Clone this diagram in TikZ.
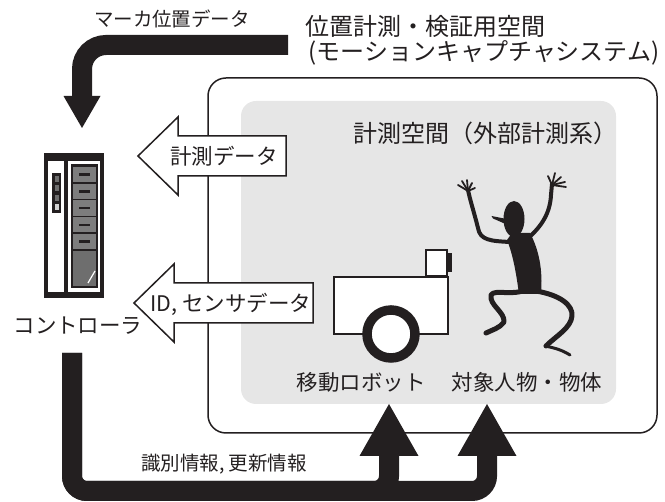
\documentclass[tikz,border=0pt]{standalone}
\usepackage{fontspec}
\setmainfont{Noto Sans CJK JP}
\usepackage{tikz}
\usetikzlibrary{arrows.meta,positioning}
\tikzset{every picture/.style={line width=0.75pt}}
\definecolor{ink}{HTML}{231F20}
\definecolor{areagray}{HTML}{E6E6E6}
\definecolor{drawer}{HTML}{6E6E6E}

\begin{document}
\begin{tikzpicture}[x=1pt,y=-1pt,
  big/.style={font=\fontsize{24}{27}\selectfont, text=ink, inner sep=0pt},
  txt/.style={font=\fontsize{21.5}{24}\selectfont, text=ink, inner sep=0pt},
  small/.style={font=\fontsize{19.5}{22}\selectfont, text=ink, inner sep=0pt},
  fat/.style={draw=ink, line width=20pt},
  hollow/.style={draw=ink, fill=white, line width=1.5pt, line join=miter},
  part/.style={draw=ink, fill=white, line width=2pt},
  limb/.style={draw=ink, line cap=round, line join=round}]
\useasboundingbox (0,0) rectangle (665,502);
%
\draw[ink, line width=1.5pt, rounded corners=18pt] (208,78) rectangle (657,433);
\fill[areagray, rounded corners=15pt] (241,101) rectangle (616,404);
%
\node[small] (mkl) at (172,18.5) {マーカ位置データ};
\node[big] (title1) at (425.5,26) {位置計測・検証用空間};
\node[big] (title2) at (484,53) {(モーションキャプチャシステム)};
\node[big] (space) at (485,133) {計測空間（外部計測系）};
%
% controller
\fill[ink] (44,153) rectangle (104,298);
\fill[white] (48,161) rectangle (64,292);
\fill[white] (68,161) rectangle (100,292);
\draw[ink, line width=1.5pt, fill=drawer] (72,165) rectangle (97,287);
\foreach \y in {166,182.8,199.6,216.4,233.2} {
  \draw[ink, line width=1.5pt, fill=drawer!90!white] (72,\y) rectangle (97,\y+16.8);
  \fill[ink] (79,\y+7.2) rectangle (90,\y+9.8);
}
\draw[white, line width=1.2pt] (88,283) -- (95,271);
\fill[ink] (52,173) rectangle (61,213);
\foreach \y/\c in {176/drawer,185.5/drawer,195/drawer,204.5/gray!35}
  \fill[\c] (54.5,\y) rectangle (58.5,\y+6);
\node[txt] (ctl) at (78,326) {コントローラ};
%
% robot
\draw[part] (334,277) rectangle (448,334);
\draw[part] (426,250) rectangle (447,276);
\fill[ink] (447,253) rectangle (452,272);
\draw[ink, fill=white, line width=9.5pt] (391,334) circle[radius=24pt];
\node[txt] (robot) at (361,382) {移動ロボット};
%
% person
\fill[ink] (514,219) ellipse[x radius=10.5pt, y radius=18pt];
\fill[ink] (491.5,216) -- (509,219.5) -- (509,225.5) -- (493,218.5) -- cycle;
\fill[ink] (507,240) .. controls (513,255) and (516,272) .. (519,294)
  -- (541,294) .. controls (543,270) and (539,250) .. (530,233) -- (512,233) -- cycle;
\draw[limb, line width=4pt] (510,242) .. controls (490,241) and (480,240) .. (478,228)
  .. controls (474,212) and (470,200) .. (468,190);
\draw[limb, line width=4pt] (526,240) .. controls (540,228) and (550,215) .. (551,195) -- (552,184);
\foreach \x/\y in {458/185,462/181,467/180,472/183,475/188}
  \draw[limb, line width=1.8pt] (468,191) -- (\x,\y);
\foreach \x/\y in {548/176,555/173,561/177,565/182,566/187}
  \draw[limb, line width=1.8pt] (552,185) -- (\x,\y);
\draw[limb, line width=5pt] (526,290) .. controls (510,296) and (495,289) .. (491,295)
  .. controls (489,305) and (505,312) .. (504,322) .. controls (500,328) and (492,330) .. (486,333);
\draw[limb, line width=5pt] (536,291) .. controls (560,295) and (573,305) .. (572,316)
  .. controls (571,328) and (556,336) .. (546,346);
\draw[limb, line width=3pt] (545,346) .. controls (555,348) and (562,350) .. (570,355);
\node[txt] (obj) at (527,382) {対象人物・物体};
%
% data arrows into the controller
\foreach \Tip/\Tail/\Mid in {138/286/156, 134/313/303}
  \draw[hollow] (\Tip,\Mid) -- (\Tip+40,\Mid-39) -- (\Tip+40,\Mid-20) -- (\Tail,\Mid-20)
    -- (\Tail,\Mid+20) -- (\Tip+40,\Mid+20) -- (\Tip+40,\Mid+39) -- cycle;
\node[txt] (meas) at (224,156) {計測データ};
\node[txt] (sens) at (231,304) {ID, センサデータ};
%
% marker data and update flows
\coordinate (mk) at (288,45);
\coordinate (mkin) at (82,128);
\draw[fat, rounded corners=24pt, -{Triangle[width=37pt,length=32pt,line width=0pt]}] (mk) -| (mkin);
\coordinate (io) at (72,353);
\coordinate (in1) at (389,404);
\coordinate (in2) at (487,404);
\foreach \Target in {in1,in2}
  \draw[fat, rounded corners=15pt, -{Triangle[width=59pt,length=52pt,line width=0pt]}]
    (io) |- (\Target |- 0,491) -- (\Target);
\node[small] (upd) at (224,464) {識別情報, 更新情報};
\end{tikzpicture}
\end{document}
